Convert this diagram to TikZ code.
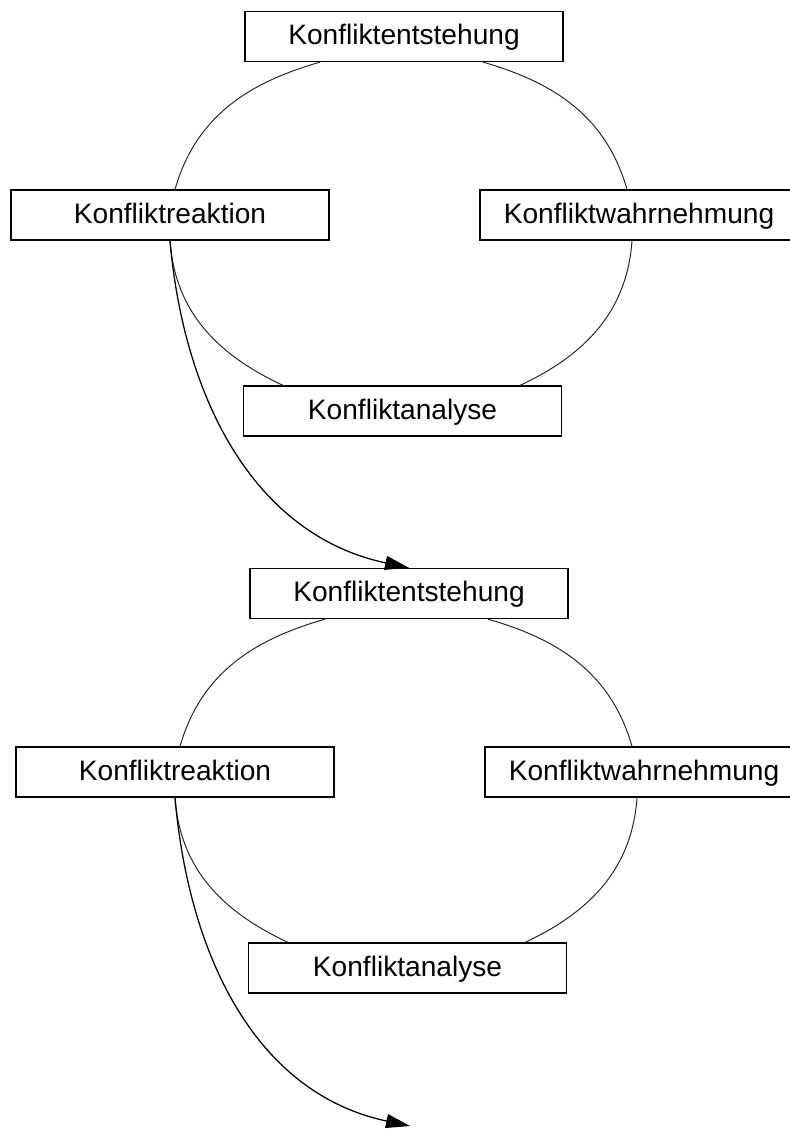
\documentclass[tikz,border=0pt]{standalone}
\usepackage{fontspec}
\setmainfont{Liberation Sans}
\usetikzlibrary{arrows.meta,calc,positioning}

\begin{document}
\begin{tikzpicture}[x=0.025cm, y=0.025cm,
        phase/.style={draw, line width=0.9pt, fill=white, minimum width=7.95cm,
            minimum height=1.25cm, inner sep=0pt, text height=15pt, text depth=3.4pt,
            font=\fontsize{20}{24}\selectfont},
        ring/.style={line width=0.7pt, black!85},
        jump/.style={line width=0.9pt, -{Triangle[length=0.6cm, width=0.35cm]}}]
    \useasboundingbox (0,0) rectangle (789,-1129);

    % first cycle
    \node[phase] (ent1) at (404,-36.5) {Konfliktentstehung};
    \node[phase] (rea1) at (170,-215) {Konfliktreaktion};
    \node[phase] (wah1) at (639,-215) {Konfliktwahrnehmung};
    \node[phase] (ana1) at (402.5,-411) {Konfliktanalyse};

    \draw[ring] ($(ent1.south)+(-84,0)$) to[out=196, in=74] ($(rea1.north)+(5,0)$);
    \draw[ring] (rea1.south) to[out=274, in=155] ($(ana1.north)+(-119.5,0)$);
    \draw[ring] ($(ana1.north)+(117.5,0)$) to[out=25, in=266] ($(wah1.south)+(-7,0)$);
    \draw[ring] ($(wah1.north)+(-12,0)$) to[out=106, in=344] ($(ent1.south)+(79,0)$);

    % second cycle
    \node[phase] (ent2) at (409,-593.5) {Konfliktentstehung};
    \node[phase] (rea2) at (175,-772) {Konfliktreaktion};
    \node[phase] (wah2) at (644,-772) {Konfliktwahrnehmung};
    \node[phase] (ana2) at (407.5,-968) {Konfliktanalyse};

    \draw[ring] ($(ent2.south)+(-84,0)$) to[out=196, in=74] ($(rea2.north)+(5,0)$);
    \draw[ring] (rea2.south) to[out=274, in=155] ($(ana2.north)+(-119.5,0)$);
    \draw[ring] ($(ana2.north)+(117.5,0)$) to[out=25, in=266] ($(wah2.south)+(-7,0)$);
    \draw[ring] ($(wah2.north)+(-12,0)$) to[out=106, in=344] ($(ent2.south)+(79,0)$);

    % transitions
    \coordinate (ent3) at (410,-1126);
    \draw[jump] (rea1.south) to[out=-85, in=168] (ent2.north);
    \draw[jump] (rea2.south) to[out=-85, in=168] (ent3);
\end{tikzpicture}
\end{document}
